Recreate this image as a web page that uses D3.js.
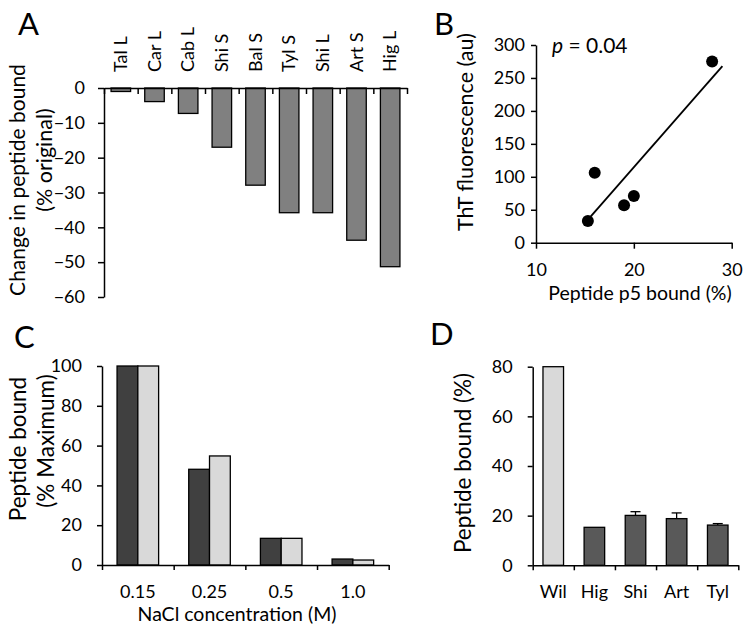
<!DOCTYPE html>
<html>
<head>
<meta charset="utf-8">
<script src="https://cdn.jsdelivr.net/npm/d3@7"></script>
<style>
  body { margin: 0; background: #fff; }
  text { font-family: Lato, "Open Sans", sans-serif; fill: #000; }
</style>
</head>
<body>
<div id="chart"></div>
<script>
// panel A
const catA = ["Tal L", "Car L", "Cab L", "Shi S", "Bal S", "Tyl S", "Shi L", "Art S", "Hig L"];
const valA = [-1, -3.9, -7.3, -17, -27.9, -35.8, -35.8, -43.7, -51.3];
const ticksA = [0, -10, -20, -30, -40, -50, -60];

// panel B
const ptX = [15.3, 16.0, 19.0, 20.0, 28.0];
const ptY = [33, 106, 57, 71, 275];
const fitX = [15.6, 29.05];
const fitY = [40, 268];
const ticksBx = [10, 20, 30];
const ticksBy = [0, 50, 100, 150, 200, 250, 300];

// panel C
const catC = ["0.15", "0.25", "0.5", "1.0"];
const darkC = [100, 48.1, 13.4, 3.0];
const lightC = [100, 54.8, 13.4, 2.5];
const ticksC = [0, 20, 40, 60, 80, 100];

// panel D
const catD = ["Wil", "Hig", "Shi", "Art", "Tyl"];
const valD = [80, 15.3, 20.1, 18.8, 16.2];
const errD = [0, 0, 1.5, 2.3, 0.6];
const ticksD = [0, 20, 40, 60, 80];

var svg = d3.select("#chart").append("svg")
  .attr("width", 747)
  .attr("height", 628);

svg.append("rect").attr("width", 747).attr("height", 628).attr("fill", "#fff");

function styleAxis(g) {
  g.select(".domain").attr("stroke", "#000").attr("stroke-width", 1.5);
  g.selectAll(".tick line").attr("stroke", "#000").attr("stroke-width", 1.5);
  g.selectAll(".tick text").attr("font-size", 18).attr("fill", "#000");
}

function panelLetter(t, x, y) {
  svg.append("text").attr("x", x).attr("y", y).attr("font-size", 31).text(t);
}

function rotLabel(t, x, y, size) {
  svg.append("text")
    .attr("transform", "translate(" + x + "," + y + ") rotate(-90)")
    .attr("text-anchor", "middle")
    .attr("dy", "0.35em")
    .attr("font-size", size)
    .text(t);
}

// ---------- A ----------
var xA = d3.scaleBand().domain(catA).range([104, 407]).paddingInner(0.42).paddingOuter(0.21);
var xAi = d3.scaleLinear().domain([0, catA.length]).range([104, 407]);
var yA = d3.scaleLinear().domain([0, -60]).range([88, 297]);

svg.append("g").selectAll("rect").data(valA).join("rect")
  .attr("x", (d, i) => xA(catA[i]))
  .attr("width", xA.bandwidth())
  .attr("y", yA(0))
  .attr("height", d => yA(d) - yA(0))
  .attr("fill", "#808080")
  .attr("stroke", "#000")
  .attr("stroke-width", 1.3);

svg.append("g").attr("transform", "translate(104,0)")
  .call(d3.axisLeft(yA).tickValues(ticksA).tickSize(6).tickSizeOuter(0).tickPadding(13))
  .call(styleAxis);

svg.append("g").attr("transform", "translate(0," + yA(0) + ")")
  .call(d3.axisBottom(xAi).tickValues(d3.range(catA.length + 1)).tickSize(6).tickSizeOuter(0).tickFormat(""))
  .call(styleAxis);

svg.append("g").selectAll("text").data(catA).join("text")
  .attr("transform", d => "translate(" + (xA(d) + xA.bandwidth() / 2) + ",72) rotate(-90)")
  .attr("dy", "0.35em")
  .attr("font-size", 18)
  .text(d => d);

rotLabel("Change in peptide bound", 18, 180, 21);
rotLabel("(% original)", 44, 160, 21.5);
panelLetter("A", 18, 35);

// ---------- B ----------
var xB = d3.scaleLinear().domain([10, 30]).range([536, 731.7]);
var yB = d3.scaleLinear().domain([0, 300]).range([242.7, 45]);

svg.append("g").attr("transform", "translate(0,242.7)")
  .call(d3.axisBottom(xB).tickValues(ticksBx).tickSize(6).tickSizeOuter(0).tickPadding(15))
  .call(styleAxis);

svg.append("g").attr("transform", "translate(536,0)")
  .call(d3.axisLeft(yB).tickValues(ticksBy).tickSize(5).tickSizeOuter(0).tickPadding(6))
  .call(styleAxis);

svg.append("line")
  .attr("x1", xB(fitX[0])).attr("y1", yB(fitY[0]))
  .attr("x2", xB(fitX[1])).attr("y2", yB(fitY[1]))
  .attr("stroke", "#000").attr("stroke-width", 1.8);

svg.append("g").selectAll("circle").data(ptX).join("circle")
  .attr("cx", d => xB(d))
  .attr("cy", (d, i) => yB(ptY[i]))
  .attr("r", 6)
  .attr("fill", "#000");

var pt = svg.append("text").attr("x", 552).attr("y", 53).attr("font-size", 21);
pt.append("tspan").attr("font-style", "italic").text("p");
pt.append("tspan").text(" = 0.04");

rotLabel("ThT fluorescence (au)", 465, 132, 21.5);
svg.append("text").attr("x", 640).attr("y", 300).attr("text-anchor", "middle")
  .attr("font-size", 19.5).text("Peptide p5 bound (%)");
panelLetter("B", 434, 35);

// ---------- C ----------
var xC = d3.scaleBand().domain(catC).range([102, 388.7]).paddingInner(0.42).paddingOuter(0.21);
var xCi = d3.scaleLinear().domain([0, catC.length]).range([102, 388.7]);
var xCs = d3.scaleBand().domain(["dark", "light"]).range([0, xC.bandwidth()]);
var yC = d3.scaleLinear().domain([0, 100]).range([565, 366]);

var gC = svg.append("g").selectAll("g").data(catC).join("g")
  .attr("transform", d => "translate(" + xC(d) + ",0)");

gC.append("rect")
  .attr("x", xCs("dark"))
  .attr("width", xCs.bandwidth())
  .attr("y", (d, i) => yC(darkC[i]))
  .attr("height", (d, i) => yC(0) - yC(darkC[i]))
  .attr("fill", "#404040")
  .attr("stroke", "#000")
  .attr("stroke-width", 1.3);

gC.append("rect")
  .attr("x", xCs("light"))
  .attr("width", xCs.bandwidth())
  .attr("y", (d, i) => yC(lightC[i]))
  .attr("height", (d, i) => yC(0) - yC(lightC[i]))
  .attr("fill", "#d9d9d9")
  .attr("stroke", "#000")
  .attr("stroke-width", 1.3);

svg.append("g").attr("transform", "translate(102,0)")
  .call(d3.axisLeft(yC).tickValues(ticksC).tickSize(5).tickSizeOuter(0).tickPadding(15))
  .call(styleAxis);

svg.append("g").attr("transform", "translate(0,565)")
  .call(d3.axisBottom(xCi).tickValues(d3.range(catC.length + 1)).tickSize(5).tickSizeOuter(0).tickFormat(""))
  .call(styleAxis);

svg.append("g").selectAll("text").data(catC).join("text")
  .attr("x", d => xC(d) + xC.bandwidth() / 2)
  .attr("y", 598)
  .attr("text-anchor", "middle")
  .attr("font-size", 18)
  .text(d => d);

rotLabel("Peptide bound", 18, 449, 22.5);
rotLabel("(% Maximum)", 46, 441, 22.5);
svg.append("text").attr("x", 237).attr("y", 621).attr("text-anchor", "middle")
  .attr("font-size", 19.5).text("NaCl concentration (M)");
panelLetter("C", 14, 348);

// ---------- D ----------
var xD = d3.scaleBand().domain(catD).range([532.7, 738.3]).paddingInner(0.5).paddingOuter(0.25);
var xDi = d3.scaleLinear().domain([0, catD.length]).range([532.7, 738.3]);
var yD = d3.scaleLinear().domain([0, 80]).range([565.3, 366.7]);

svg.append("g").selectAll("rect").data(valD).join("rect")
  .attr("x", (d, i) => xD(catD[i]))
  .attr("width", xD.bandwidth())
  .attr("y", d => yD(d))
  .attr("height", d => yD(0) - yD(d))
  .attr("fill", (d, i) => i === 0 ? "#d9d9d9" : "#595959")
  .attr("stroke", "#000")
  .attr("stroke-width", 1.3);

// error bars (only where visible)
valD.forEach((v, i) => {
  if (errD[i] <= 0) return;
  var cx = xD(catD[i]) + xD.bandwidth() / 2;
  svg.append("line").attr("x1", cx).attr("x2", cx)
    .attr("y1", yD(v)).attr("y2", yD(v + errD[i]))
    .attr("stroke", "#000").attr("stroke-width", 1.3);
  svg.append("line").attr("x1", cx - 5).attr("x2", cx + 5)
    .attr("y1", yD(v + errD[i])).attr("y2", yD(v + errD[i]))
    .attr("stroke", "#000").attr("stroke-width", 1.3);
});

svg.append("g").attr("transform", "translate(532.7,0)")
  .call(d3.axisLeft(yD).tickValues(ticksD).tickSize(5).tickSizeOuter(0).tickPadding(15))
  .call(styleAxis);

svg.append("g").attr("transform", "translate(0,565.3)")
  .call(d3.axisBottom(xDi).tickValues(d3.range(catD.length + 1)).tickSize(5).tickSizeOuter(0).tickFormat(""))
  .call(styleAxis);

svg.append("g").selectAll("text").data(catD).join("text")
  .attr("x", d => xD(d) + xD.bandwidth() / 2)
  .attr("y", 598)
  .attr("text-anchor", "middle")
  .attr("font-size", 18)
  .text(d => d);

rotLabel("Peptide bound (%)", 463, 463, 22.5);
panelLetter("D", 430, 345);
</script>
</body>
</html>
